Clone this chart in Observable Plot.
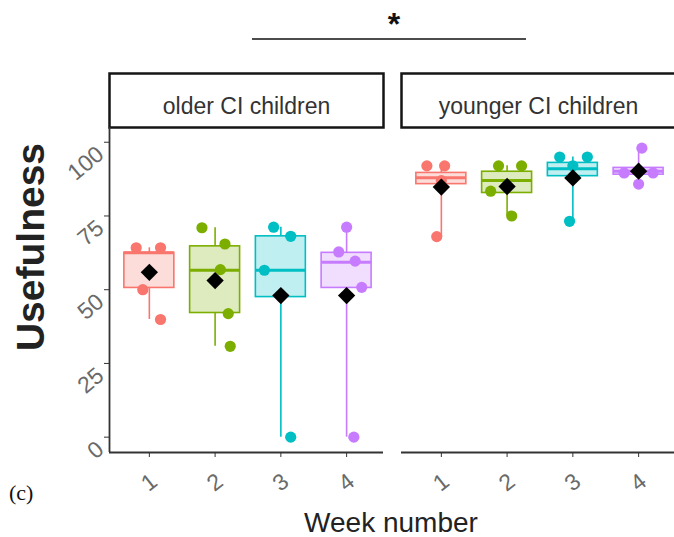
<!DOCTYPE html>
<html><head><meta charset="utf-8">
<script src="https://cdn.jsdelivr.net/npm/d3@7"></script>
<script src="https://cdn.jsdelivr.net/npm/@observablehq/plot@0.6"></script>
<style>
body{margin:0;background:#fff;}
#wrap{width:674px;height:537px;overflow:hidden;position:relative;background:#fff;}
#wrap svg{max-width:none !important;}
</style></head><body><div id="wrap"></div>
<script>
// ---- data ----
const groups = ["older CI children", "younger CI children"];
const weeks = [1, 2, 3, 4];
const weekColors = ["#F8766D", "#7CAE00", "#00BFC4", "#C77CFF"];
const yTicks = [0, 25, 50, 75, 100];

// box summaries: older weeks 1-4, then younger weeks 1-4
const boxGroup = [0, 0, 0, 0, 1, 1, 1, 1];
const boxWeek = [1, 2, 3, 4, 1, 2, 3, 4];
const q1 = [50.6, 42.1, 47.5, 50.6, 85.8, 82.8, 88.5, 89.0];
const median = [62.5, 56.6, 56.6, 59.3, 88.0, 87.0, 91.0, 90.2];
const q3 = [62.5, 64.7, 68.1, 62.5, 89.6, 90.0, 93.0, 91.3];
const whiskerLow = [39.9, 30.8, 0, 0, 68.0, 75.0, 73.2, 85.8];
const whiskerHigh = [64.2, 71.0, 71.2, 71.2, 92.0, 92.0, 95.0, 98.0];
const meanValue = [55.9, 53.1, 48.0, 48.0, 84.8, 85.0, 87.9, 90.2];

// individual children (jitter = horizontal offset, in week units)
const ptGroup = [0,0,0,0, 0,0,0,0,0, 0,0,0,0, 0,0,0,0,0, 1,1,1,1, 1,1,1,1, 1,1,1,1, 1,1,1,1];
const ptWeek  = [1,1,1,1, 2,2,2,2,2, 3,3,3,3, 4,4,4,4,4, 1,1,1,1, 2,2,2,2, 3,3,3,3, 4,4,4,4];
const ptValue = [64.2,64.2,50.0,39.9, 71.0,65.5,56.8,41.9,30.8, 71.2,68.1,56.6,0, 71.2,62.8,59.7,50.8,0,
                 92,92,87,68, 92,92,83.4,75, 95,95,92,73.2, 98,89.6,89.6,85.8];
const ptJitter = [-0.2,0.17,-0.1,0.17, -0.2,0.15,0.08,0.2,0.23, -0.11,0.15,-0.25,0.15, 0,-0.12,0.13,0.23,0.11,
                  -0.22,0.05,0,-0.07, -0.13,0.22,-0.25,0.07, -0.2,0.22,0,-0.05, 0.05,-0.22,0.22,0];

// ---- tables ----
const boxes = boxWeek.map((w, i) => ({
  group: groups[boxGroup[i]], week: w, q1: q1[i], median: median[i], q3: q3[i],
  lo: whiskerLow[i], hi: whiskerHigh[i], mean: meanValue[i]
}));
const points = ptValue.map((v, i) => ({
  group: groups[ptGroup[i]], week: ptWeek[i], value: v, jitter: ptJitter[i]
}));
const yTickRows = yTicks.map(v => ({group: groups[0], value: v}));

const xDomain = [0.394, 4.561];
const yDomain = [-5.2, 105];
const halfBox = 0.38;
const font = "'Liberation Sans', Arial, sans-serif";

const plot = Plot.plot({
  width: 680, height: 537,
  marginLeft: 108, marginRight: 4, marginTop: 127, marginBottom: 85,
  style: {fontFamily: font, background: "white", overflow: "visible"},
  fx: {domain: groups, paddingInner: 0.0614, paddingOuter: 0, axis: null, label: null},
  x: {domain: xDomain, label: null, axis: null},
  y: {domain: yDomain, label: null, axis: null},
  color: {type: "ordinal", domain: weeks, range: weekColors},
  marks: [
    // strip boxes
    Plot.frame({insetTop: -54, insetBottom: 325, stroke: "#151515", strokeWidth: 2.5, fill: "white"}),
    Plot.text(groups, {fx: d => d, text: d => d, frameAnchor: "top", dy: -30, fontSize: 23, fill: "#333"}),
    // whiskers
    Plot.ruleX(boxes, {fx: "group", x: "week", y1: "lo", y2: "q1", stroke: "week", strokeWidth: 1.6}),
    Plot.ruleX(boxes, {fx: "group", x: "week", y1: "q3", y2: "hi", stroke: "week", strokeWidth: 1.6}),
    // boxes
    Plot.rect(boxes, {fx: "group", x1: d => d.week - halfBox, x2: d => d.week + halfBox, y1: "q1", y2: "q3",
      fill: "week", fillOpacity: 0.25, stroke: "week", strokeWidth: 1.6}),
    Plot.ruleY(boxes, {fx: "group", x1: d => d.week - halfBox, x2: d => d.week + halfBox, y: "median",
      stroke: "week", strokeWidth: 3}),
    // points
    Plot.dot(points, {fx: "group", x: d => d.week + d.jitter, y: "value", r: 5.6, fill: "week"}),
    // means
    Plot.dot(boxes, {fx: "group", x: "week", y: "mean", symbol: "diamond2", r: 7.8, fill: "black"}),
    // axis lines
    Plot.ruleY([yDomain[0]], {stroke: "#333", strokeWidth: 1.8}),
    Plot.ruleX([{group: groups[0]}], {fx: "group", x: () => xDomain[0], stroke: "#333", strokeWidth: 1.8}),
    // tick marks
    Plot.axisY({ticks: yTicks, tickSize: 5, stroke: "#333", tickFormat: () => ""}),
    Plot.axisX({ticks: weeks, tickSize: 5, stroke: "#333", tickFormat: () => ""}),
    // tick labels (rotated)
    Plot.text(yTickRows, {fx: "group", y: "value", text: d => String(d.value), frameAnchor: "left",
      dx: -9, dy: 9, rotate: -40, textAnchor: "end", lineAnchor: "middle", fontSize: 23, fill: "#6a6a6a"}),
    Plot.text(weeks, {x: d => d, text: d => String(d), frameAnchor: "bottom",
      dy: 30, rotate: -38, textAnchor: "middle", lineAnchor: "middle", fontSize: 23, fill: "#6a6a6a"})
  ]
});
plot.style.maxWidth = "none";
document.getElementById("wrap").appendChild(plot);

const svg = d3.select(plot);
// significance bracket
svg.append("line").attr("x1", 252).attr("x2", 526).attr("y1", 39).attr("y2", 39)
  .attr("stroke", "#111").attr("stroke-width", 1.6);
svg.append("text").attr("x", 394).attr("y", 35).attr("text-anchor", "middle")
  .attr("font-family", font).attr("font-size", 32).attr("font-weight", "bold").attr("fill", "#111").text("*");
// axis titles
svg.append("text").attr("transform", "translate(44,247) rotate(-90)").attr("text-anchor", "middle")
  .attr("font-family", font).attr("font-size", 39).attr("font-weight", "bold").attr("fill", "#222").text("Usefulness");
svg.append("text").attr("x", 391).attr("y", 532).attr("text-anchor", "middle")
  .attr("font-family", font).attr("font-size", 28).attr("fill", "#222").text("Week number");
svg.append("text").attr("x", 9).attr("y", 500).attr("text-anchor", "start")
  .attr("font-family", "'Liberation Serif', 'Times New Roman', serif").attr("font-size", 22).attr("fill", "#111").text("(c)");
</script></body></html>
